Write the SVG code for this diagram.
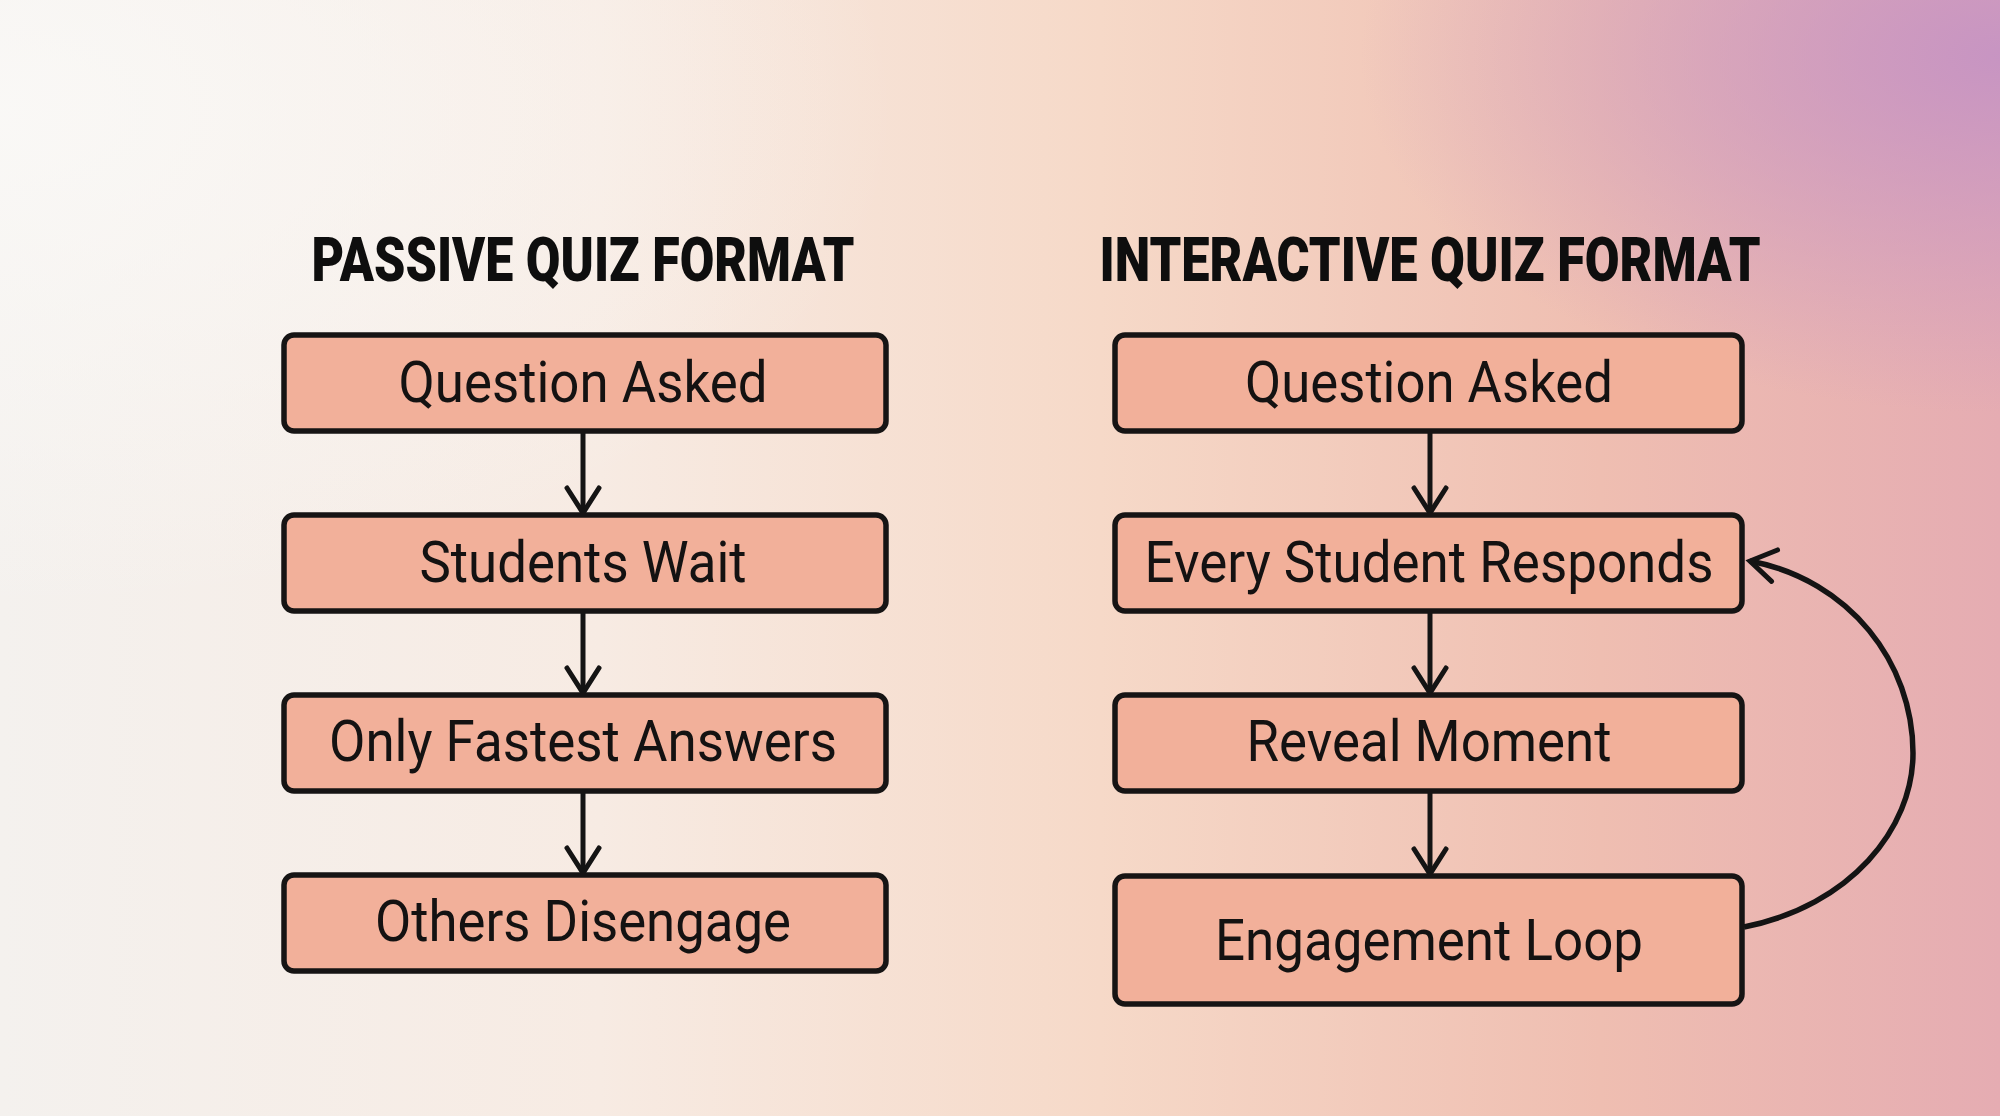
<svg xmlns="http://www.w3.org/2000/svg" width="2000" height="1116" viewBox="0 0 2000 1116">
<defs>
<linearGradient id="bg" x1="0" y1="0" x2="1" y2="0">
<stop offset="0" stop-color="#f4f1ee"/>
<stop offset="0.3" stop-color="#f7ebe3"/>
<stop offset="0.55" stop-color="#f6d9c8"/>
<stop offset="0.8" stop-color="#efbeb1"/>
<stop offset="1" stop-color="#e5acb2"/>
</linearGradient>
<radialGradient id="tr" cx="1" cy="0.05" r="0.32">
<stop offset="0" stop-color="#c492c4" stop-opacity="0.9"/>
<stop offset="1" stop-color="#c492c4" stop-opacity="0"/>
</radialGradient>
<radialGradient id="tl" cx="0" cy="0.1" r="0.45">
<stop offset="0" stop-color="#fbfaf8" stop-opacity="0.8"/>
<stop offset="1" stop-color="#fbfaf8" stop-opacity="0"/>
</radialGradient>
<marker id="arr" markerUnits="userSpaceOnUse" markerWidth="40" markerHeight="40" viewBox="-30 -20 40 40" refX="0" refY="0" orient="auto" overflow="visible">
<path d="M-25,-16 L0,0 L-25,16" fill="none" stroke="#141414" stroke-width="5" stroke-linecap="round" stroke-linejoin="miter"/>
</marker>
</defs>
<style>
.box{fill:#f2b09a;stroke:#161414;stroke-width:5.5;}
.lbl{font-family:Roboto,"Liberation Sans",sans-serif;font-weight:400;font-size:58px;fill:#141212;text-anchor:middle;}
.ttl{font-family:Roboto,"Liberation Sans",sans-serif;font-weight:900;font-size:62px;fill:#0e0e0e;text-anchor:middle;}
.con{fill:none;stroke:#141414;stroke-width:5;marker-end:url(#arr);}
.loop{stroke-width:5.5;}
</style>
<rect width="2000" height="1116" fill="url(#bg)"/>
<rect width="2000" height="1116" fill="url(#tr)"/>
<rect width="2000" height="1116" fill="url(#tl)"/>

<g id="titles">
<text class="ttl" x="583" y="281" textLength="543" lengthAdjust="spacingAndGlyphs">PASSIVE QUIZ FORMAT</text>
<text class="ttl" x="1430" y="281" textLength="661" lengthAdjust="spacingAndGlyphs">INTERACTIVE QUIZ FORMAT</text>
</g>

<g id="connectors">
<path class="con" d="M583,431 L583,513"/>
<path class="con" d="M583,611 L583,693"/>
<path class="con" d="M583,791 L583,873"/>
<path class="con" d="M1430,431 L1430,513"/>
<path class="con" d="M1430,611 L1430,693"/>
<path class="con" d="M1430,791 L1430,874"/>
<path class="con loop" d="M1744,927 C1850,906 1913,829 1913,753 C1913,663 1850,580 1750,561"/>
</g>

<g id="p1"><rect class="box" x="284" y="335" width="602" height="96" rx="10"/><text class="lbl" x="583" y="402" textLength="369" lengthAdjust="spacingAndGlyphs">Question Asked</text></g>
<g id="p2"><rect class="box" x="284" y="515" width="602" height="96" rx="10"/><text class="lbl" x="583" y="582" textLength="327" lengthAdjust="spacingAndGlyphs">Students Wait</text></g>
<g id="p3"><rect class="box" x="284" y="695" width="602" height="96" rx="10"/><text class="lbl" x="583" y="761" textLength="508" lengthAdjust="spacingAndGlyphs">Only Fastest Answers</text></g>
<g id="p4"><rect class="box" x="284" y="875" width="602" height="96" rx="10"/><text class="lbl" x="583" y="941" textLength="416" lengthAdjust="spacingAndGlyphs">Others Disengage</text></g>

<g id="i1"><rect class="box" x="1115" y="335" width="627" height="96" rx="10"/><text class="lbl" x="1429" y="402" textLength="368" lengthAdjust="spacingAndGlyphs">Question Asked</text></g>
<g id="i2"><rect class="box" x="1115" y="515" width="627" height="96" rx="10"/><text class="lbl" x="1429" y="582" textLength="569" lengthAdjust="spacingAndGlyphs">Every Student Responds</text></g>
<g id="i3"><rect class="box" x="1115" y="695" width="627" height="96" rx="10"/><text class="lbl" x="1429" y="761" textLength="365" lengthAdjust="spacingAndGlyphs">Reveal Moment</text></g>
<g id="i4"><rect class="box" x="1115" y="876" width="627" height="128" rx="10"/><text class="lbl" x="1429" y="960" textLength="428" lengthAdjust="spacingAndGlyphs">Engagement Loop</text></g>
</svg>
